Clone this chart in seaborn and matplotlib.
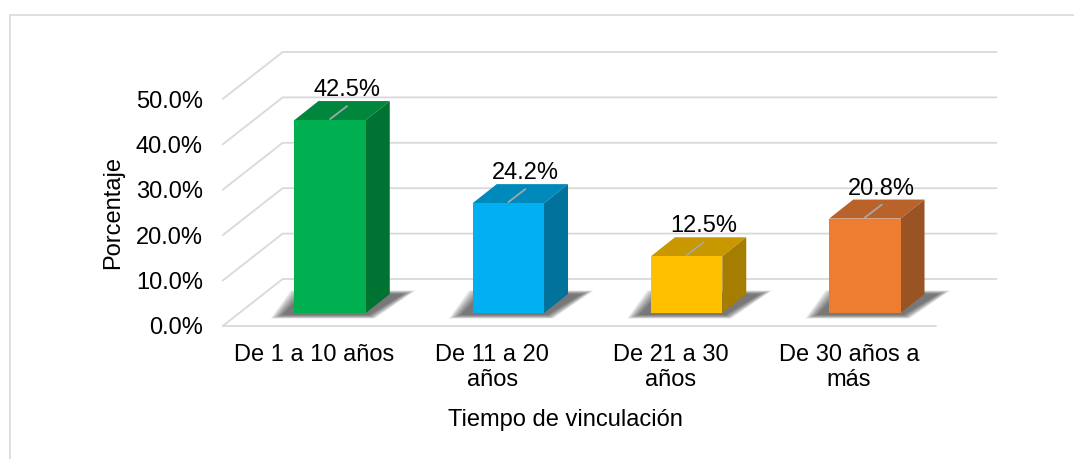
import matplotlib
matplotlib.use("Agg")
import matplotlib.pyplot as plt
import seaborn as sns
from matplotlib.patches import Polygon
from matplotlib.lines import Line2D
from matplotlib.transforms import offset_copy

# ---- data ----
categories = ["De 1 a 10 años", "De 11 a 20\naños", "De 21 a 30\naños", "De 30 años a\nmás"]
values = [42.5, 24.2, 12.5, 20.8]
front_colors = ["#00b050", "#00b0f0", "#ffc000", "#ed7d31"]
top_colors = ["#00873d", "#0089bb", "#c99700", "#b9622a"]
side_colors = ["#007232", "#00729c", "#a57d00", "#9a5325"]
yticks = [0, 10, 20, 30, 40, 50]
ytick_labels = [f"{t:.1f}%" for t in yticks]
xlabel = "Tiempo de vinculación"
ylabel = "Porcentaje"

sns.set_theme(style="white")
plt.rcParams["font.family"] = ["Liberation Sans", "DejaVu Sans"]
FS = 17

W, H = 1074, 459
fig = plt.figure(figsize=(W / 100, H / 100), dpi=100)
fig.patch.set_facecolor("white")
ax_l, ax_b, ax_w, ax_h = 225, 133, 713, 227
ax = fig.add_axes([ax_l / W, ax_b / H, ax_w / W, ax_h / H])

xmin, xmax = -0.513, 3.486
ax.set_xlim(xmin, xmax)
ax.set_ylim(0, 50)
sx = ax_w / (xmax - xmin)
sy = ax_h / 50.0


def P(x, y, dx, dy):
    return (x + dx / sx, y + dy / sy)


grid_c = "#d9d9d9"
WALL_DX, WALL_DY = 60, 47
BACK_RIGHT_PX = 999 - ax_l
# wall + floor gridlines
for t in yticks:
    a = (xmin, t)
    b = P(xmin, t, WALL_DX, WALL_DY)
    c = P(xmin, t, BACK_RIGHT_PX, WALL_DY)
    ax.add_line(Line2D([a[0], b[0], c[0]], [a[1], b[1], c[1]], color=grid_c, lw=1.3,
                       clip_on=False, zorder=0))
ax.add_line(Line2D([xmin, xmax], [0, 0], color=grid_c, lw=1.3, clip_on=False, zorder=0))

sns.barplot(x=categories, y=values, hue=categories, palette=front_colors, width=0.4,
            legend=False, ax=ax, saturation=1, edgecolor="none", zorder=3)

F_DX, F_DY = 16, 13   # bar front offset
D_DX, D_DY = 24, 19   # bar depth
bars = sorted([p for p in ax.patches], key=lambda p: p.get_x())
for i, p in enumerate(bars):
    p.set_transform(offset_copy(ax.transData, fig=fig, x=F_DX, y=F_DY, units="dots"))
    p.set_clip_on(False)
    x0, w, h = p.get_x(), p.get_width(), p.get_height()
    wpx = w * sx
    # soft shadow on the floor
    n = 10
    for k in range(n):
        e = (n - 1 - k) * 1.3
        pts = [P(x0, 0, F_DX - 12 - e, F_DY - 2 - e * 0.3),
               P(x0, 0, F_DX + wpx + 3 + e * 0.5, F_DY - 2 - e * 0.3),
               P(x0, 0, F_DX + wpx + D_DX + 14 + e, F_DY + D_DY + e * 0.3),
               P(x0, 0, F_DX + 8 - e, F_DY + D_DY + e * 0.3)]
        ax.add_patch(Polygon(pts, closed=True, facecolor="#222222", edgecolor="none",
                             alpha=0.085, clip_on=False, zorder=1))
    top = [P(x0, h, F_DX, F_DY), P(x0 + w, h, F_DX, F_DY),
           P(x0 + w, h, F_DX + D_DX, F_DY + D_DY), P(x0, h, F_DX + D_DX, F_DY + D_DY)]
    side = [P(x0 + w, 0, F_DX, F_DY), P(x0 + w, 0, F_DX + D_DX, F_DY + D_DY),
            P(x0 + w, h, F_DX + D_DX, F_DY + D_DY), P(x0 + w, h, F_DX, F_DY)]
    ax.add_patch(Polygon(top, closed=True, facecolor=top_colors[i], edgecolor="none",
                         clip_on=False, zorder=2))
    ax.add_patch(Polygon(side, closed=True, facecolor=side_colors[i], edgecolor="none",
                         clip_on=False, zorder=2))
    xc = x0 + w / 2
    l0 = P(xc, h, F_DX, F_DY + 1)
    l1 = P(xc, h, F_DX + 17, F_DY + 14)
    ax.add_line(Line2D([l0[0], l1[0]], [l0[1], l1[1]], color="#a6a6a6", lw=1.3,
                       clip_on=False, zorder=4))
    tx, ty = P(xc, h, F_DX + 17, F_DY + 24)
    ax.text(tx, ty, f"{values[i]:.1f}%", ha="center", va="baseline", fontsize=FS,
            color="#000000", clip_on=False, zorder=5)

for s in ax.spines.values():
    s.set_visible(False)
ax.set_yticks(yticks)
ax.set_yticklabels(ytick_labels)
ax.tick_params(axis="y", length=0, pad=16, labelsize=FS, colors="#000000")
ax.tick_params(axis="x", length=0, pad=13, labelsize=FS, colors="#000000")
ax.set_xlabel(xlabel, fontsize=FS, color="#000000")
ax.set_ylabel(ylabel, fontsize=FS, color="#000000")
ax.xaxis.set_label_coords((565 - ax_l) / ax_w, -(409 - 326) / ax_h)
ax.yaxis.set_label_coords((124 - ax_l) / ax_w, 0.5)
ax.grid(False)
ax.set_facecolor("none")

# outer chart border
fig.add_artist(Line2D([10 / W, 10 / W], [0, 1 - 15 / H], transform=fig.transFigure,
                      color=grid_c, lw=1.2))
fig.add_artist(Line2D([10 / W, 1], [1 - 15 / H, 1 - 15 / H], transform=fig.transFigure,
                      color=grid_c, lw=1.2))

fig.savefig("out.png", dpi=100, facecolor="white")
